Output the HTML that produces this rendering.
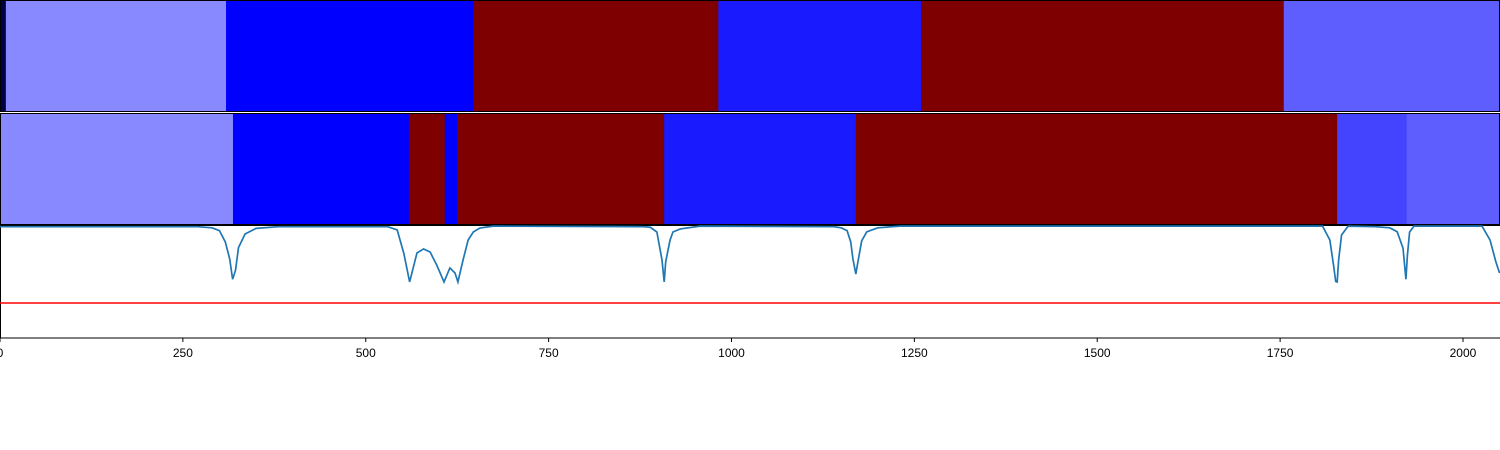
<!DOCTYPE html>
<html><head><meta charset="utf-8">
<style>
body{margin:0;background:#fff;width:1500px;height:450px;overflow:hidden;font-family:"Liberation Sans",sans-serif}
svg{display:block}
</style></head>
<body>
<svg id="chart" width="1500" height="450" xmlns="http://www.w3.org/2000/svg"></svg>
<script>
// top band segments (start values), colors
const topStarts=[0,8,309,647,982,1259,1755];
const topColors=["#00004a","#8888ff","#0000ff","#7f0000","#1a1aff","#7f0000","#5e5eff"];
// middle band segments
const midStarts=[0,318.5,559,608,625,908,1170,1828,1923];
const midColors=["#8888ff","#0000ff","#7f0000","#0000ff","#7f0000","#1a1aff","#7f0000","#4444ff","#5e5eff"];
// curve samples
const curveX=[0,270,290,300,308,314,318,322,326,335,350,380,
 530,543,552,560,570,579,588,597,607,615,622,626,633,640,647,656,674,
 880,889,898,905,908,910,916,920,930,957,
 1140,1150,1158,1163,1166,1170,1173,1178,1185,1200,1230,
 1808,1818,1823,1826,1828,1830,1834,1843,1880,1900,1910,1918,1922,1924,1927,1933,1940,2026,2037,2045,2050];
const curveY=[0.985,0.985,0.975,0.95,0.85,0.7,0.52,0.6,0.8,0.92,0.97,0.985,
 0.985,0.956,0.75,0.496,0.752,0.788,0.761,0.646,0.496,0.62,0.575,0.496,0.69,0.867,0.938,0.973,0.99,
 0.985,0.98,0.938,0.69,0.496,0.673,0.867,0.938,0.965,0.99,
 0.985,0.975,0.95,0.85,0.7,0.566,0.68,0.86,0.94,0.975,0.99,
 0.99,0.867,0.646,0.5,0.496,0.69,0.912,0.99,0.985,0.975,0.94,0.796,0.52,0.73,0.938,0.99,0.99,0.99,0.867,0.673,0.575];
const threshold=0.31;
const ticks=[0,250,500,750,1000,1250,1500,1750,2000];

const svg=document.getElementById('chart');
const NS="http://www.w3.org/2000/svg";
const X0=0,X1=1500,D0=0,D1=2050.6;
const sx=v=>X0+(v-D0)/(D1-D0)*(X1-X0);
const sy=v=>338-v*113;
function mk(t,a){const e=document.createElementNS(NS,t);for(const k in a)e.setAttribute(k,a[k]);svg.appendChild(e);return e;}
function band(starts,colors,y0,h,name){
 for(let i=0;i<starts.length;i++){
  const a=sx(starts[i]),b=i+1<starts.length?sx(starts[i+1]):X1;
  const r=mk('rect',{x:a,y:y0,width:b-a+0.5,height:h,fill:colors[i]});
  
  
 }
 const f=mk('rect',{x:0.5,y:y0+0.5,width:1499,height:h-1,fill:'none',stroke:'#000','stroke-width':1});
 
 
}
band(topStarts,topColors,0,112,'top-band');
band(midStarts,midColors,113,112,'middle-band');
const fr=mk('rect',{x:0.5,y:225.5,width:1500,height:112.5,fill:'none',stroke:'#000','stroke-width':1});


const th=mk('line',{x1:0,x2:1500,y1:sy(threshold),y2:sy(threshold),stroke:'#ff0000','stroke-width':1.5});


let d='';
for(let i=0;i<curveX.length;i++)d+=(i?'L':'M')+sx(curveX[i]).toFixed(2)+','+sy(curveY[i]).toFixed(2);
const p=mk('path',{d:d,fill:'none',stroke:'#1f77b4','stroke-width':1.7});


ticks.forEach(t=>{
 const x=sx(t);
 const l=mk('line',{x1:x,x2:x,y1:338,y2:342,stroke:'#000','stroke-width':1});
 
 
 const tx=mk('text',{x:x,y:357,'text-anchor':'middle','font-size':12,fill:'#000'});
 tx.textContent=t;
 
 
});
</script>
</body></html>
